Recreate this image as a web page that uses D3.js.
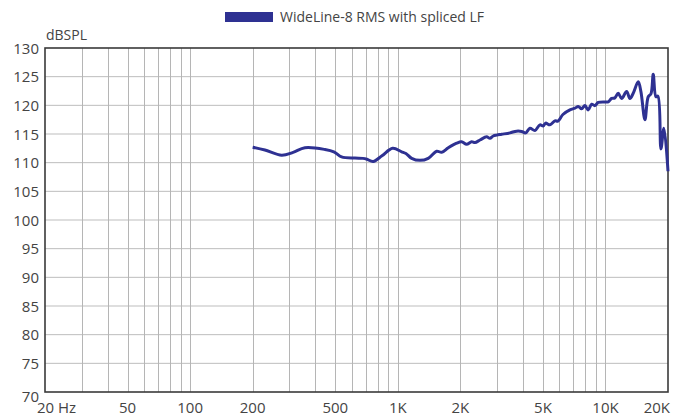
<!DOCTYPE html>
<html><head><meta charset="utf-8">
<script src="https://cdn.jsdelivr.net/npm/d3@7"></script>
<style>body{margin:0;background:#fff}svg{display:block}text{font-family:"Open Sans",sans-serif;fill:#444}</style>
</head><body><svg id="c" width="693" height="419"></svg>
<script>
const seriesName = "WideLine-8 RMS with spliced LF";
const freqs = [200,229,276,313,357,446,492,536,622,679,710,761,839,944,1043,1094,1166,1278,1401,1538,1626,1750,1920,2028,2144,2267,2352,2486,2677,2776,2880,2992,3162,3467,3734,3946,4126,4327,4573,4835,5013,5148,5400,5709,5902,6238,6742,7127,7392,7674,7960,8256,8574,8894,9226,9936,10306,10702,11100,11512,11956,12642,13112,13600,14374,14811,15486,16064,16552,16980,17498,17888,18492,19114,20000];
const levels = [112.7,112.2,111.3,111.8,112.6,112.3,111.9,111.0,110.8,110.75,110.6,110.2,111.2,112.5,111.9,111.6,110.75,110.4,110.75,112.0,111.8,112.6,113.4,113.65,113.2,113.65,113.5,113.95,114.5,114.25,114.65,114.8,114.95,115.2,115.5,115.45,115.2,116.0,115.6,116.6,116.4,116.9,116.6,117.3,117.25,118.4,119.2,119.5,119.8,119.4,119.95,119.2,120.2,119.95,120.5,120.6,120.6,121.2,121.3,122.1,121.2,122.4,121.2,122.1,124.1,122.4,117.5,121.5,122.0,125.4,121.5,121.6,112.4,116.0,108.5];
const yTicks = [70,75,80,85,90,95,100,105,110,115,120,125,130];
const xGrid = [20,30,40,50,60,70,80,90,100,200,300,400,500,600,700,800,900,1000,2000,3000,4000,5000,6000,7000,8000,9000,10000,20000];
const xLabelVals = [20,50,100,200,500,1000,2000,5000,10000,20000];
const xLabelText = ["20 Hz","50","100","200","500","1K","2K","5K","10K","20K"];

const L=45,R=668,T=48,B=392;
const svg=d3.select("#c");
const x=d3.scaleLog().domain([20,20000]).range([L,R]);
const y=d3.scaleLinear().domain([70,130]).range([B,T]);

svg.append("g").selectAll("line").data(yTicks.slice(1,-1)).join("line")
 .attr("x1",L).attr("x2",R).attr("y1",d=>y(d)).attr("y2",d=>y(d))
 .attr("stroke","#bdbdbd").attr("stroke-width",1);
svg.append("g").selectAll("line").data(xGrid.slice(1,-1)).join("line")
 .attr("x1",d=>Math.round(x(d))+0.5).attr("x2",d=>Math.round(x(d))+0.5).attr("y1",T).attr("y2",B)
 .attr("stroke","#b5b5b5").attr("stroke-width",1);
svg.append("rect").attr("x",L).attr("y",T).attr("width",R-L).attr("height",B-T)
 .attr("fill","none").attr("stroke","#3a3a3a").attr("stroke-width",1.6);

svg.append("g").selectAll("text").data(yTicks).join("text")
 .attr("x",39).attr("y",d=>y(d)+(d===70?10:5.5)).attr("text-anchor","end")
 .attr("font-size",15).text(d=>d);
svg.append("text").attr("x",46).attr("y",40).attr("font-size",14).text("dBSPL");

svg.append("g").selectAll("text").data(xLabelVals).join("text")
 .attr("x",(d,i)=>i===0?x(d)-8:x(d)+(i===xLabelVals.length-1?2:0))
 .attr("y",413)
 .attr("text-anchor",(d,i)=>i===0?"start":(i===xLabelVals.length-1?"end":"middle"))
 .attr("font-size",15).text((d,i)=>xLabelText[i]);

const line=d3.line().x((d,i)=>x(freqs[i])).y(d=>y(d)).curve(d3.curveCatmullRom.alpha(0.5));
svg.append("path").datum(levels).attr("d",line).attr("fill","none")
 .attr("stroke","#2e3192").attr("stroke-width",3).attr("stroke-linejoin","round");

svg.append("rect").attr("x",225).attr("y",12).attr("width",48).attr("height",10).attr("fill","#2e3192");
svg.append("text").attr("x",280).attr("y",22).attr("font-size",14).text(seriesName);
</script></body></html>
